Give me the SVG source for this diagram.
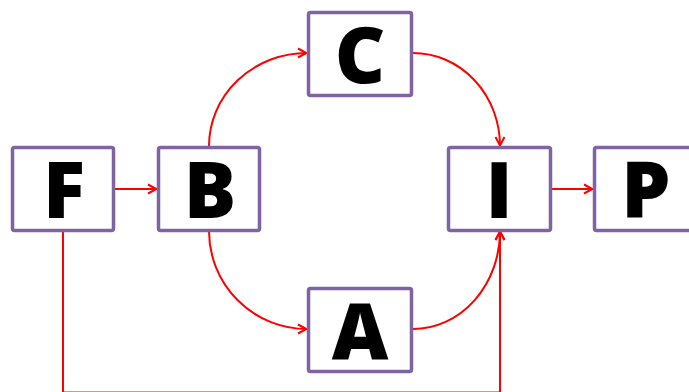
<svg xmlns="http://www.w3.org/2000/svg" width="689" height="392" viewBox="0 0 689 392">
  <style>
    .box rect { fill: #ffffff; stroke: #8064A2; stroke-width: 3.5; }
    .box text { font-family: "Open Sans", "Liberation Sans", sans-serif; font-weight: 800; font-size: 78px; fill: #000000; text-anchor: middle; }
    .wire { fill: none; stroke: #FF0000; stroke-width: 2; }
  </style>
  <defs>
    <marker id="vee" viewBox="0 0 12 12" refX="11" refY="6" markerWidth="12" markerHeight="12" markerUnits="userSpaceOnUse" orient="auto">
      <path d="M2,1.5 L10.5,6 L2,10.5" fill="none" stroke="#FF0000" stroke-width="2"/>
    </marker>
  </defs>

  <g id="connectors">
    <path class="wire" d="M115,189 H157" marker-end="url(#vee)"/>
    <path class="wire" d="M552,189 H593" marker-end="url(#vee)"/>
    <path class="wire" d="M209,146 A98 93 0 0 1 307,53" marker-end="url(#vee)"/>
    <path class="wire" d="M413,53 A87 93 0 0 1 500,146" marker-end="url(#vee)"/>
    <path class="wire" d="M209,231 A98 98 0 0 0 307,329" marker-end="url(#vee)"/>
    <path class="wire" d="M413,329 A87 98 0 0 0 500,231" marker-end="url(#vee)"/>
    <path class="wire" d="M63,231 V392.4 H500 V231" marker-end="url(#vee)"/>
  </g>

  <g id="node-F" class="box">
    <rect x="12.5" y="147.5" width="101" height="83" rx="2"/>
    <text x="64" y="218">F</text>
  </g>
  <g id="node-B" class="box">
    <rect x="158.5" y="147.5" width="101" height="83" rx="2"/>
    <text x="210" y="218">B</text>
  </g>
  <g id="node-C" class="box">
    <rect x="308.5" y="12.5" width="103" height="83" rx="2"/>
    <text x="360" y="83">C</text>
  </g>
  <g id="node-A" class="box">
    <rect x="308.5" y="288.5" width="103" height="83" rx="2"/>
    <text x="360" y="359">A</text>
  </g>
  <g id="node-I" class="box">
    <rect x="448.5" y="147.5" width="102" height="83" rx="2"/>
    <text x="499" y="218">I</text>
  </g>
  <g id="node-P" class="box">
    <rect x="594.5" y="147.5" width="102" height="83" rx="2"/>
    <text x="646" y="218">P</text>
  </g>
</svg>
